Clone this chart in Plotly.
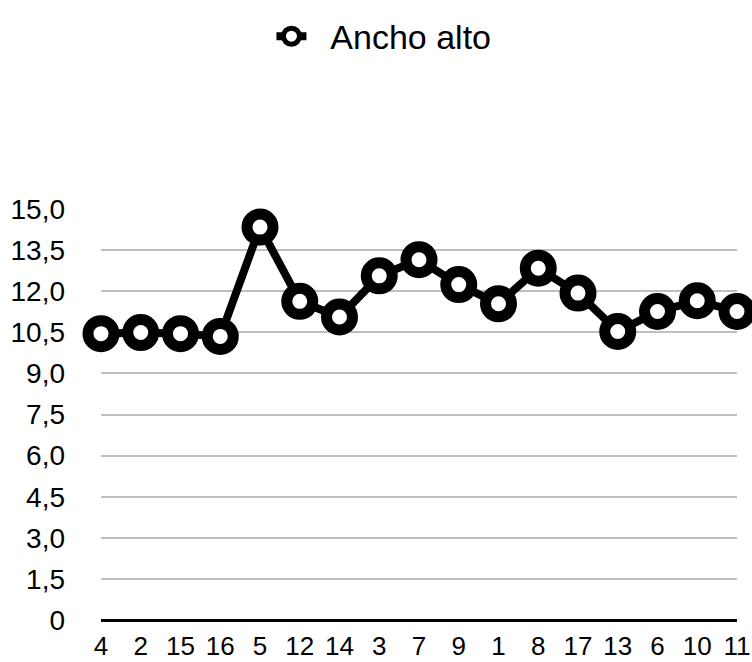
import plotly.graph_objects as go

categories = ["4", "2", "15", "16", "5", "12", "14", "3", "7", "9", "1", "8", "17", "13", "6", "10", "11"]
values = [10.45, 10.49, 10.45, 10.35, 14.34, 11.63, 11.06, 12.56, 13.15, 12.24, 11.54, 12.84, 11.93, 10.53, 11.26, 11.65, 11.26]
series_name = "Ancho alto"
y_tickvals = [0, 1.5, 3, 4.5, 6, 7.5, 9, 10.5, 12, 13.5, 15]
y_ticktext = ["0", "1,5", "3,0", "4,5", "6,0", "7,5", "9,0", "10,5", "12,0", "13,5", "15,0"]

FONT = "Liberation Sans, Arial, sans-serif"

fig = go.Figure()
fig.add_trace(go.Scatter(
    x=list(range(len(categories))),
    y=values,
    mode="lines+markers",
    name="\u00a0\u00a0" + series_name,
    line=dict(color="black", width=8),
    marker=dict(symbol="circle", size=26, color="white", line=dict(color="black", width=11)),
    cliponaxis=False,
))

fig.update_layout(
    width=752, height=662,
    margin=dict(l=101, r=15, t=209, b=42, autoexpand=False),
    paper_bgcolor="white", plot_bgcolor="white",
    font=dict(family=FONT, size=27, color="black"),
    showlegend=True,
    legend=dict(orientation="h", x=0.268, xanchor="left", y=1.49, yanchor="top",
                yref="paper", font=dict(size=34, family=FONT), itemwidth=30),
    xaxis=dict(
        tickmode="array", tickvals=list(range(len(categories))), ticktext=categories,
        range=[0, len(categories) - 1], showgrid=False, zeroline=False, automargin=False,
        showline=False, ticks="", ticklabelstandoff=8, tickfont=dict(size=26),
        ticklabeloverflow="allow",
    ),
    yaxis=dict(
        tickmode="array", tickvals=y_tickvals, ticktext=y_ticktext,
        range=[0, 15], showgrid=True, gridcolor="#bfbfbf", gridwidth=2, automargin=False,
        zeroline=True, zerolinecolor="black", zerolinewidth=3,
        showline=False, ticks="", ticklabelstandoff=35, tickfont=dict(size=28),
    ),
)

fig.write_html(
    "out.html",
    config={"displayModeBar": False},
    post_script="document.body.style.margin='0';document.body.style.overflow='hidden';",
)
